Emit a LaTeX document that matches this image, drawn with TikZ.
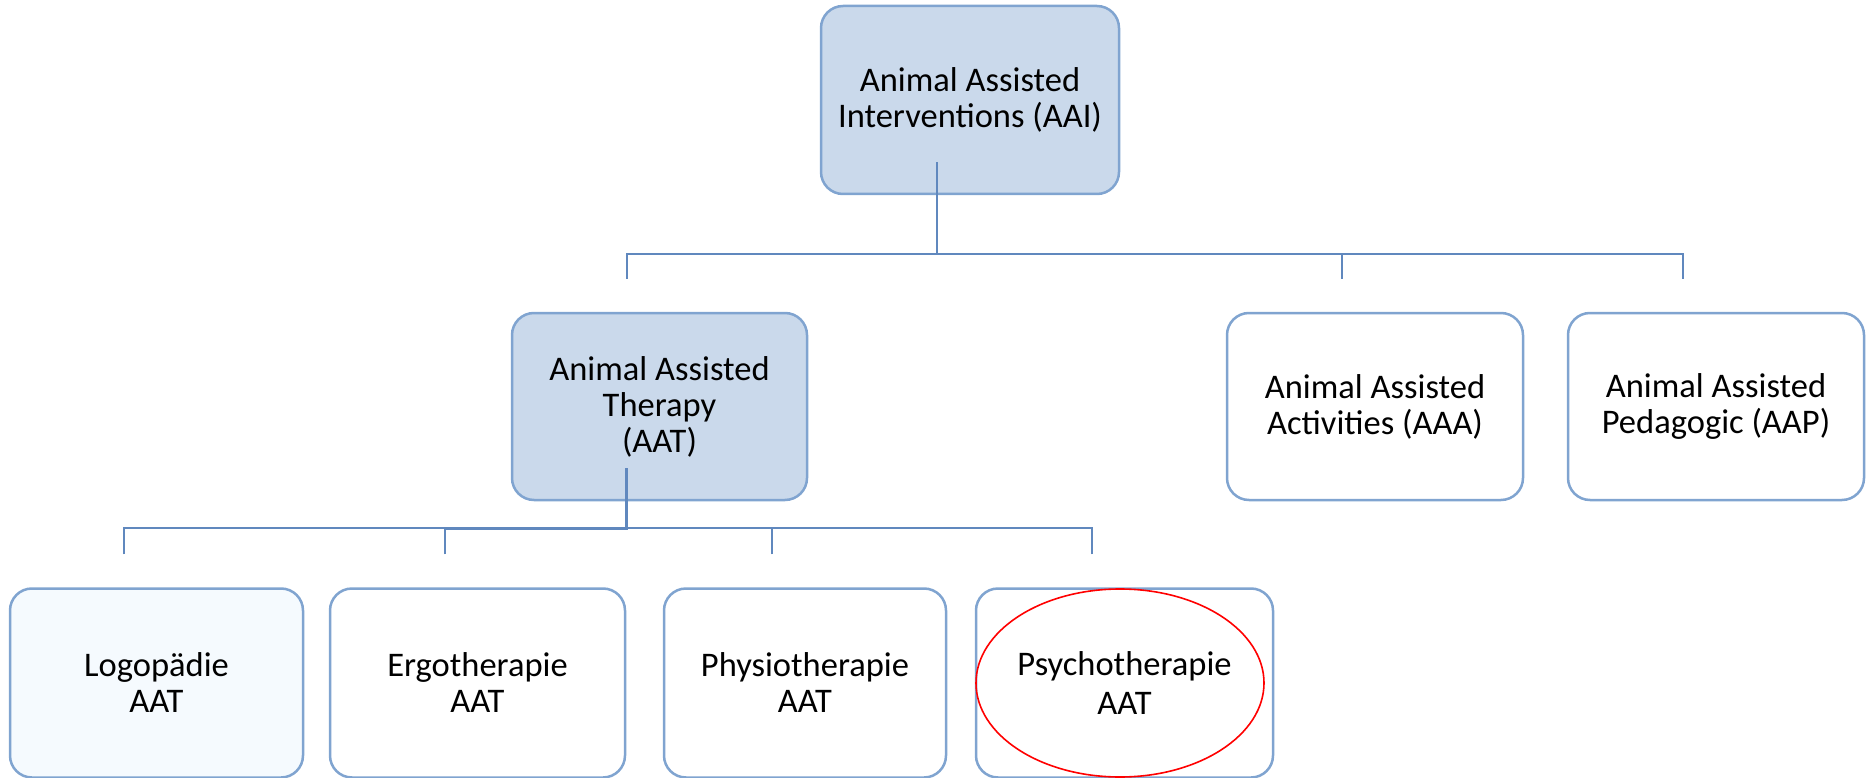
\documentclass[tikz,border=0pt]{standalone}
\usepackage{fontspec}
\setmainfont{Carlito}
\usepackage{xcolor}
\usetikzlibrary{positioning,calc,shapes.geometric}
\definecolor{boxline}{RGB}{128,164,208}
\definecolor{boxfill}{RGB}{202,217,235}
\definecolor{linkline}{RGB}{96,136,190}
\definecolor{palefill}{RGB}{245,250,254}

\begin{document}
\begin{tikzpicture}[
  x=1pt, y=-1pt,
  font=\fontsize{34.5}{36}\selectfont,
  box/.style={draw=boxline, line width=2.5pt, rounded corners=22pt, align=center,
              inner sep=0pt, fill=white, minimum width=296pt, minimum height=188pt},
  hl/.style={fill=boxfill},
  leaf/.style={minimum height=189pt},
  link/.style={draw=linkline, line width=2pt},
  sh/.style={xshift=-33pt, yshift=33pt}]
\useasboundingbox (0,0) rectangle (1866,778);

% top level
\node[box, hl, minimum width=298pt] (aai) at (970,100)
  {Animal Assisted\\Interventions (AAI)};

% second level
\node[box, hl, minimum width=295pt, minimum height=187pt] (aat) at (659.5,406.5)
  {Animal Assisted\\Therapy\\(AAT)};
\node[box, minimum height=187pt] (aaa) at (1375,406.5)
  {Animal Assisted\\Activities (AAA)};
\node[box, minimum height=187pt] (aap) at (1716,406.5)
  {Animal Assisted\\Pedagogic (AAP)};

% therapies
\node[box, leaf, fill=palefill, minimum width=293pt] (logo) at (156.5,683) {Logopädie\\AAT};
\node[box, leaf, minimum width=295pt] (ergo) at (477.5,683) {Ergotherapie\\AAT};
\node[box, leaf, minimum width=282pt] (physio) at (805,683) {Physiotherapie\\AAT};
\node[box, leaf, minimum width=297pt] (psycho) at (1124.5,683) {Psychotherapie\\[3pt]AAT};

% connectors
\path ([sh]aai.south) ++(0,92) coordinate (bus1);
\draw[link] ([sh]aai.south) -- (bus1);
\foreach \n in {aat, aaa, aap} \draw[link] ([sh]\n.north) |- (bus1);
\path ([sh]aat.south) ++(0,60) coordinate (bus2);
\path ([sh]ergo.north) ++(0,-26) coordinate (bus2b);
\draw[link] ([sh]aat.south) -- (bus2);
\foreach \n in {logo, ergo, physio, psycho} \draw[link] ([sh]\n.north) |- (bus2);
\draw[link, line width=3pt] ([sh]aat.south) |- (bus2b);

% mark
\node[draw=red, line width=1.6pt, ellipse, minimum width=288pt, minimum height=188pt,
      inner sep=0pt] (ring) at (1120,683) {};
\end{tikzpicture}
\end{document}
